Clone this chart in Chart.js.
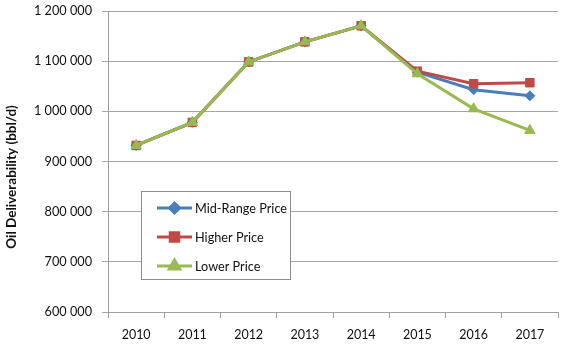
<!DOCTYPE html>
<html><head><meta charset="utf-8">
<script src="https://cdn.jsdelivr.net/npm/chart.js@4"></script>
<style>html,body{margin:0;padding:0;background:#fff}#wrap{width:580px;height:357px}</style>
</head><body><div id="wrap"><canvas id="c" width="580" height="357"></canvas></div>
<script>
const years = ['2010','2011','2012','2013','2014','2015','2016','2017'];
const midRange = [932000, 978000, 1098500, 1138500, 1170500, 1078000, 1043000, 1031000];
const higher   = [932000, 978000, 1098500, 1138500, 1170500, 1080000, 1055000, 1057000];
const lower    = [932000, 978000, 1098500, 1138500, 1170500, 1075000, 1005000, 962000];
const seriesNames = ['Mid-Range Price', 'Higher Price', 'Lower Price'];
const yTitle = 'Oil Deliverability (bbl/d)';

const FONT = 'Lato';
const colors = ['#4a7ebb', '#be4b48', '#98b954'];
const styles = ['rectRot', 'rect', 'triangle'];
const radii = [5, 6, 6];

const legendPlugin = {
  id: 'boxLegend',
  afterDraw(chart) {
    const ctx = chart.ctx;
    ctx.save();
    ctx.translate(12, 177);
    ctx.rotate(-Math.PI / 2);
    ctx.fillStyle = '#111';
    ctx.font = 'bold 13.5px ' + FONT;
    ctx.textAlign = 'center';
    ctx.textBaseline = 'middle';
    ctx.fillText(yTitle, 0, 0);
    ctx.restore();
  },
  afterDatasetsDraw(chart) {
    const ctx = chart.ctx;
    const x0 = 141.5, y0 = 191.5, w = 149, h = 88;
    ctx.save();
    ctx.fillStyle = '#fff';
    ctx.fillRect(x0, y0, w, h);
    ctx.strokeStyle = '#8c8c8c';
    ctx.lineWidth = 1;
    ctx.strokeRect(x0, y0, w, h);
    const rows = [208, 237, 266];
    chart.data.datasets.forEach((ds, i) => {
      const y = rows[i];
      ctx.strokeStyle = ds.borderColor;
      ctx.lineWidth = 3;
      ctx.beginPath(); ctx.moveTo(157, y); ctx.lineTo(192, y); ctx.stroke();
      ctx.fillStyle = ds.borderColor;
      Chart.helpers.drawPoint(ctx, {pointStyle: ds.pointStyle, radius: ds.pointRadius, borderWidth: 1}, 174.5, y);
      ctx.fill();
      ctx.fillStyle = '#111';
      ctx.font = '12.7px ' + FONT;
      ctx.textBaseline = 'middle';
      ctx.textAlign = 'left';
      ctx.fillText(seriesNames[i], 195, y + 0.5);
    });
    ctx.restore();
  }
};

function fmt(v) {
  return String(Math.round(v)).replace(/\B(?=(\d{3})+(?!\d))/g, ' ');
}

const datasets = [midRange, higher, lower].map((d, i) => ({
  label: seriesNames[i],
  data: d,
  borderColor: colors[i],
  backgroundColor: colors[i],
  pointBackgroundColor: colors[i],
  pointBorderColor: colors[i],
  pointStyle: styles[i],
  pointRadius: radii[i],
  pointBorderWidth: 1,
  borderWidth: 3,
  tension: 0,
  order: 3 - i
}));

new Chart(document.getElementById('c'), {
  type: 'line',
  data: { labels: years, datasets },
  options: {
    responsive: false,
    animation: false,
    devicePixelRatio: 1,
    layout: { padding: { top: 11, right: 22, bottom: 0, left: 0 } },
    plugins: { legend: { display: false }, tooltip: { enabled: false } },
    scales: {
      x: {
        offset: true,
        grid: { offset: true, drawOnChartArea: false, drawTicks: true, tickLength: 6, color: '#a0a0a0' },
        border: { color: '#a0a0a0', width: 1 },
        ticks: { font: { family: FONT, size: 12.5 }, color: '#111', padding: 9 },
        afterFit(s) { s.height = 45; s.paddingLeft = 0; s.paddingRight = 0; }
      },
      y: {
        min: 600000, max: 1200000,
        grid: { color: '#a6a6a6', tickLength: 6, lineWidth: 1 },
        border: { color: '#a0a0a0', width: 1 },
        ticks: { stepSize: 100000, font: { family: FONT, size: 12.7 }, color: '#111', padding: 10, callback: v => fmt(v) },
        afterFit(s) { s.width = 108; s.paddingTop = 0; s.paddingBottom = 0; }
      }
    }
  },
  plugins: [legendPlugin]
});
</script>
</body></html>
